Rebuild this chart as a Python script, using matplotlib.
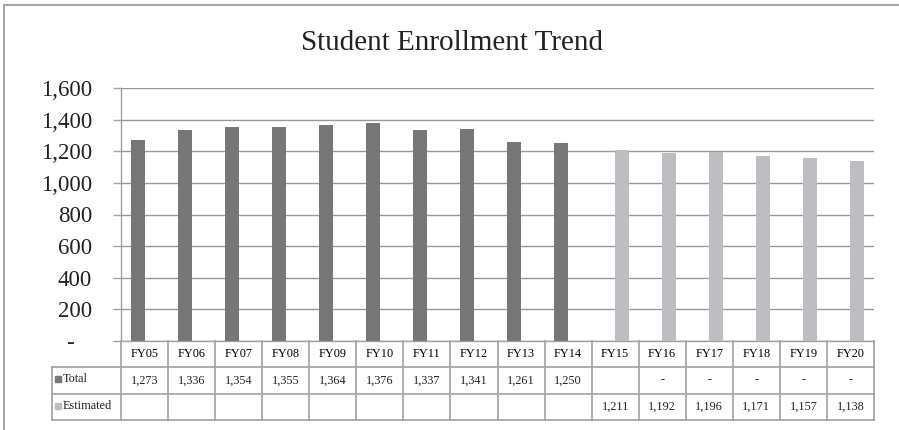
import numpy as np
import matplotlib.pyplot as plt
from matplotlib.patches import Rectangle

plt.rcParams['font.family'] = ['Liberation Serif', 'DejaVu Serif']

years = ['FY05', 'FY06', 'FY07', 'FY08', 'FY09', 'FY10', 'FY11', 'FY12',
         'FY13', 'FY14', 'FY15', 'FY16', 'FY17', 'FY18', 'FY19', 'FY20']
total = [1273, 1336, 1354, 1355, 1364, 1376, 1337, 1341, 1261, 1250,
         None, 0, 0, 0, 0, 0]
estimated = [None] * 10 + [1211, 1192, 1196, 1171, 1157, 1138]
series = [('Total', total, '#77777a'), ('Estimated', estimated, '#bdbec1')]
yticks = [0, 200, 400, 600, 800, 1000, 1200, 1400, 1600]

W, H = 899, 430
fig = plt.figure(figsize=(W / 100, H / 100), dpi=100)

def px(x0, y0, x1, y1):
    # pixel box (top-left origin) -> figure fraction rect
    return [x0 / W, 1 - y1 / H, (x1 - x0) / W, (y1 - y0) / H]

line_c = '#a0a0a0'

# outer chart frame (cropped at right/bottom)
fig.patches.append(Rectangle((4 / W, -0.1), 1.2, 1 - 5 / H + 0.1,
                             transform=fig.transFigure, fill=False,
                             ec='#a8a8a8', lw=1.5))

fig.text(452 / W, 1 - 43 / H, 'Student Enrollment Trend', ha='center',
         va='center', fontsize=21, color='#222222')

ax = fig.add_axes(px(121, 88, 874, 341))
x = np.arange(len(years))
bw = 0.29
for i, (name, vals, col) in enumerate(series):
    v = np.array([np.nan if a is None else a for a in vals], dtype=float)
    ax.bar(x + (i - 0.5) * bw, v, width=bw, color=col, zorder=3)

ax.set_xlim(-0.5, len(years) - 0.5)
ax.set_ylim(0, 1600)
ax.set_yticks(yticks)
ax.set_yticklabels(['-   ' if t == 0 else f'{t:,}' for t in yticks])
ax.tick_params(axis='y', length=5.8, width=1, color=line_c, pad=15,
               labelsize=16.5, labelcolor='#222222')
ax.tick_params(axis='x', bottom=False, labelbottom=False)
ax.grid(axis='y', color='#999999', lw=1, zorder=0)
for s in ['top', 'right']:
    ax.spines[s].set_visible(False)
for s in ['left', 'bottom']:
    ax.spines[s].set_color(line_c)
    ax.spines[s].set_linewidth(1)

# data table
tax = fig.add_axes(px(121, 341, 874, 420), sharex=ax)
tax.set_ylim(3, 0)
tax.axis('off')
lab_left = -0.5 - (121 - 52) / (753 / len(years))
n = len(years)
kw = dict(color=line_c, lw=1.2, clip_on=False)
for i in range(n + 1):
    tax.plot([i - 0.5, i - 0.5], [0, 3], **kw)
tax.plot([lab_left, lab_left], [1, 3], **kw)
for r in [1, 2, 3]:
    tax.plot([lab_left, n - 0.5], [r, r], **kw)

fs = 8.8
for i, yr in enumerate(years):
    tax.text(i, 0.5, yr, ha='center', va='center', fontsize=fs)
for r, (name, vals, col) in enumerate(series, start=1):
    for i, v in enumerate(vals):
        if v is None:
            continue
        tax.text(i, r + 0.5, '-' if v == 0 else f'{v:,}', ha='center',
                 va='center', fontsize=fs, color='#222222')
    tax.plot(lab_left + 0.13, r + 0.45, marker='s', ms=5, color=col,
             clip_on=False)
    tax.text(lab_left + 0.23, r + 0.45, name, ha='left', va='center',
             fontsize=fs, color='#222222')

fig.savefig('out.png', dpi=100)
